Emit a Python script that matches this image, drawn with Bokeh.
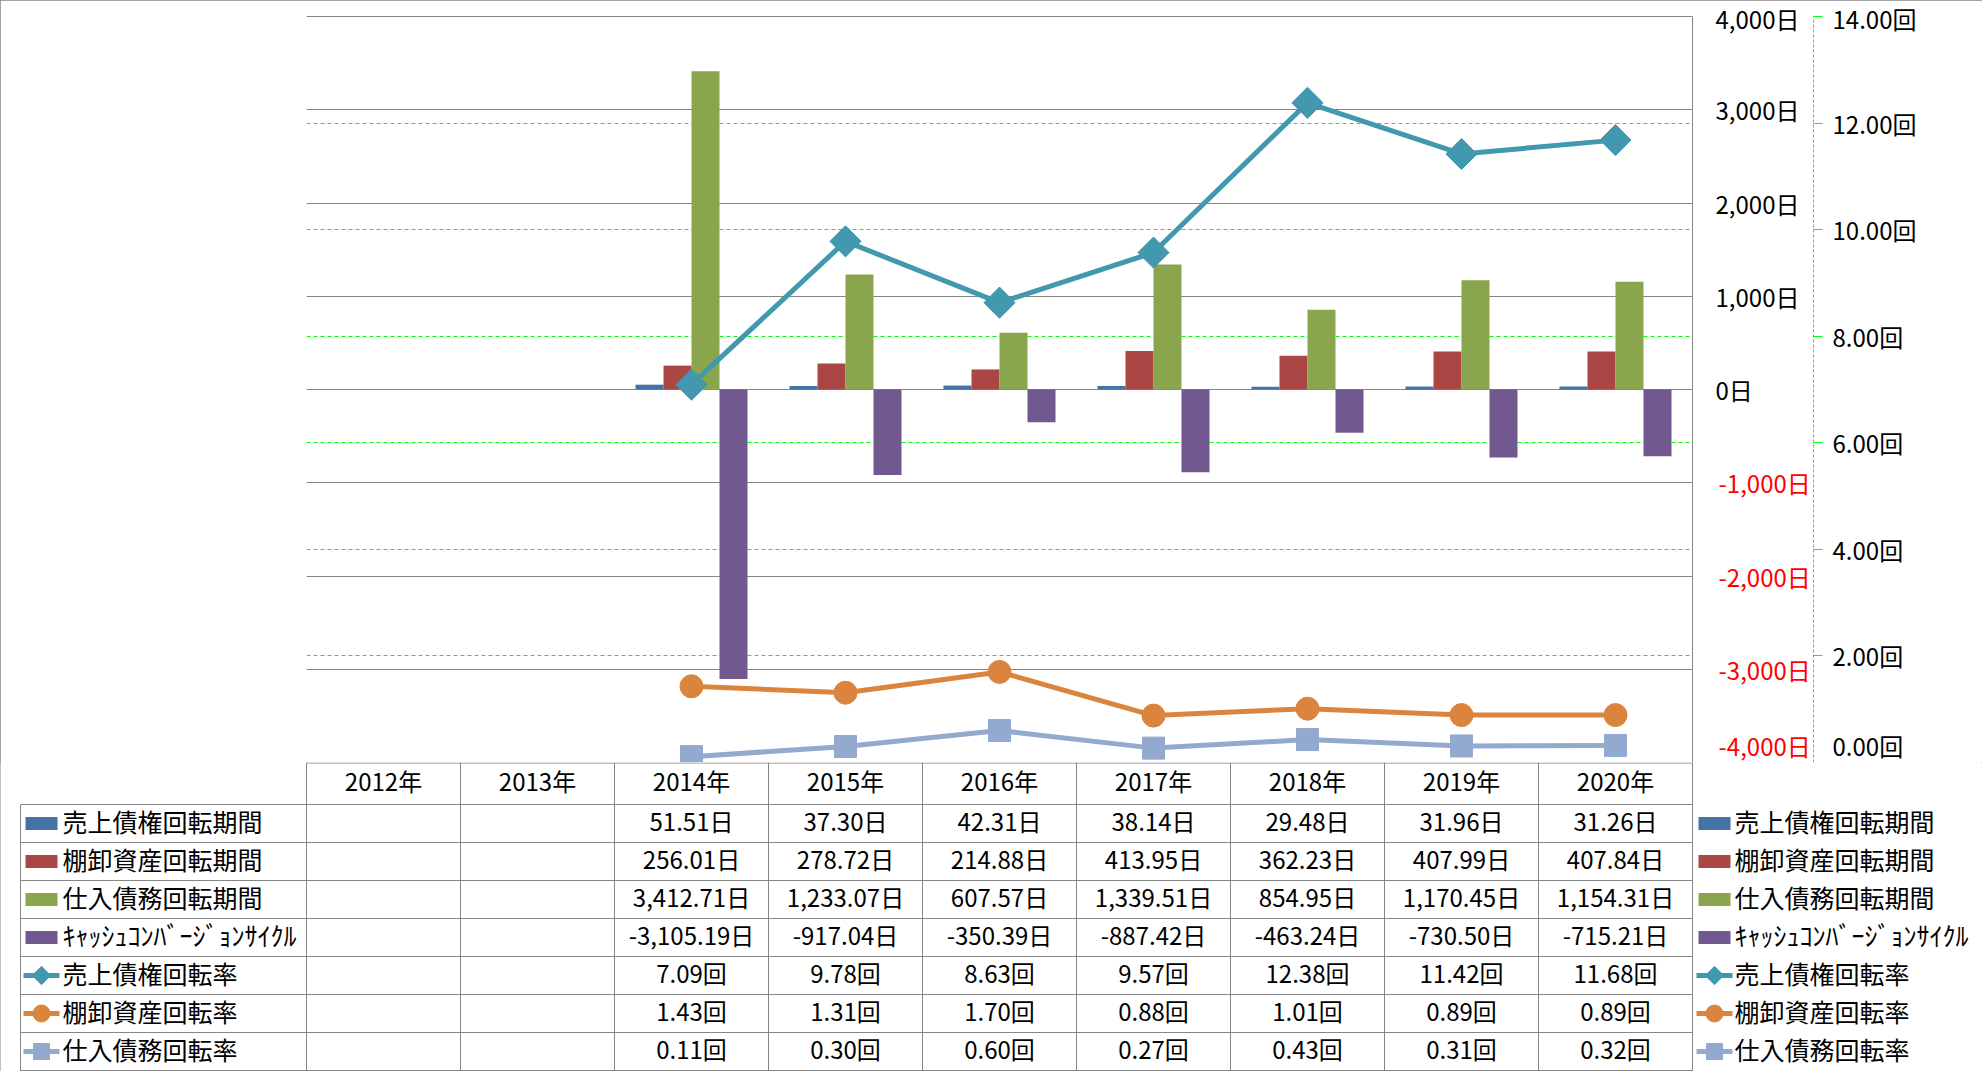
import numpy as np
from bokeh.plotting import figure
from bokeh.models import ColumnDataSource, FactorRange, Range1d, LinearAxis, FixedTicker, Grid
from bokeh.transform import dodge
from bokeh.layouts import column
from bokeh.embed import file_html
from bokeh.resources import INLINE
from bokeh.core.properties import value

# ---------------- data ----------------
years = ["2012年", "2013年", "2014年", "2015年", "2016年", "2017年", "2018年", "2019年", "2020年"]
nan = float("nan")
ar_days = [nan, nan, 51.51, 37.30, 42.31, 38.14, 29.48, 31.96, 31.26]
inv_days = [nan, nan, 256.01, 278.72, 214.88, 413.95, 362.23, 407.99, 407.84]
ap_days = [nan, nan, 3412.71, 1233.07, 607.57, 1339.51, 854.95, 1170.45, 1154.31]
ccc_days = [nan, nan, -3105.19, -917.04, -350.39, -887.42, -463.24, -730.50, -715.21]
ar_turn = [nan, nan, 7.09, 9.78, 8.63, 9.57, 12.38, 11.42, 11.68]
inv_turn = [nan, nan, 1.43, 1.31, 1.70, 0.88, 1.01, 0.89, 0.89]
ap_turn = [nan, nan, 0.11, 0.30, 0.60, 0.27, 0.43, 0.31, 0.32]

series_names = ["売上債権回転期間", "棚卸資産回転期間", "仕入債務回転期間",
                "ｷｬｯｼｭｺﾝﾊﾞｰｼﾞｮﾝｻｲｸﾙ", "売上債権回転率", "棚卸資産回転率", "仕入債務回転率"]
series_units = ["日", "日", "日", "日", "回", "回", "回"]

day_ticks = [-4000, -3000, -2000, -1000, 0, 1000, 2000, 3000, 4000]
day_tick_labels = ["-4,000日", "-3,000日", "-2,000日", "-1,000日", "0日",
                   "1,000日", "2,000日", "3,000日", "4,000日"]
turn_ticks = [0, 2, 4, 6, 8, 10, 12, 14]
turn_tick_labels = ["0.00回", "2.00回", "4.00回", "6.00回", "8.00回",
                    "10.00回", "12.00回", "14.00回"]
turn_grid_ticks = [2, 4, 6, 8, 10, 12]

# ---------------- style ----------------
FONT = "Noto Sans CJK JP"
FS = "24px"
GRID = "#868686"
GREEN = "#00FF00"
bar_colors = ["#4572A7", "#AA4643", "#89A54E", "#71588F"]
line_colors = ["#4198AF", "#DB843D", "#93A9CF"]
W = 1982
PL, PR = 306, 1692
PT, PB = 16, 762
CW = (PR - PL) / len(years)

bar_keys = ["ar_days", "inv_days", "ap_days", "ccc_days"]
line_keys = ["ar_turn", "inv_turn", "ap_turn"]
src = ColumnDataSource(dict(year=years, ar_days=ar_days, inv_days=inv_days, ap_days=ap_days,
                            ccc_days=ccc_days, ar_turn=ar_turn, inv_turn=inv_turn, ap_turn=ap_turn))

# ---------------- chart ----------------
d_pad = (day_ticks[-1] - day_ticks[0]) / (PB - PT)
t_pad = (turn_ticks[-1] - turn_ticks[0]) / (PB - PT)
top = figure(width=W, height=PB,
             x_range=FactorRange(*years, range_padding=0, factor_padding=0),
             y_range=Range1d(day_ticks[0], day_ticks[-1] + d_pad),
             x_axis_location=None, y_axis_location=None,
             min_border_left=PL, min_border_right=W - PR, min_border_top=PT - 1, min_border_bottom=0,
             output_backend="svg", toolbar_location=None, outline_line_color=None,
             background_fill_color="white", border_fill_color="white", frame_align=False)
top.extra_y_ranges = {"turn": Range1d(turn_ticks[0], turn_ticks[-1] + t_pad)}
top.grid.visible = False

top.add_layout(Grid(dimension=1, y_range_name="turn", ticker=FixedTicker(ticks=turn_grid_ticks),
                    grid_line_color=GREEN, grid_line_dash="4 3", grid_line_width=1))
top.add_layout(Grid(dimension=1, ticker=FixedTicker(ticks=day_ticks),
                    grid_line_color=GRID, grid_line_width=1))

bw = 28 / CW
offsets = [-1.5 * bw, -0.5 * bw, 0.5 * bw, 1.5 * bw]
for key, col, off in zip(bar_keys, bar_colors, offsets):
    top.vbar(x=dodge("year", off, range=top.x_range), top=key, bottom=0, width=bw,
             source=src, fill_color=col, line_color=None)

markers = [("square", np.pi / 4, 22), ("circle", 0, 23), ("square", 0, 22)]
for key, col, (mk, ang, sz) in zip(line_keys, line_colors, markers):
    top.line(x="year", y=key, y_range_name="turn", source=src, line_color=col, line_width=5)
    top.scatter(x="year", y=key, y_range_name="turn", source=src, marker=mk, angle=ang,
                size=sz, fill_color=col, line_color=col, line_width=1)

common = dict(major_label_text_font=FONT, major_label_text_font_size=FS,
              minor_tick_line_color=None, major_tick_in=0)
pos = [(t, l) for t, l in zip(day_ticks, day_tick_labels) if t >= 0]
neg = [(t, l) for t, l in zip(day_ticks, day_tick_labels) if t < 0]
axA = LinearAxis(ticker=FixedTicker(ticks=[t for t, _ in pos]),
                 major_label_overrides={t: l for t, l in pos}, bounds=(day_ticks[0], day_ticks[-1]),
                 axis_line_color=GRID, axis_line_width=1, major_tick_line_color=None,
                 major_tick_out=0, major_label_standoff=23, major_label_text_color="black", **common)
axB = LinearAxis(ticker=FixedTicker(ticks=[t for t, _ in neg]),
                 major_label_overrides={t: l for t, l in neg},
                 axis_line_color=None, major_tick_line_color=None,
                 major_tick_out=0, major_label_standoff=-84, major_label_text_color="#FF0000", **common)
axC = LinearAxis(y_range_name="turn", ticker=FixedTicker(ticks=turn_ticks),
                 major_label_overrides=dict(zip(turn_ticks, turn_tick_labels)),
                 bounds=(turn_ticks[0], turn_ticks[-1]),
                 axis_line_color=GREEN, axis_line_dash="3 2", axis_line_width=1,
                 major_tick_line_color=GREEN, major_tick_out=9,
                 major_label_standoff=10, major_label_text_color="black", **common)
top.add_layout(axA, "right")
top.add_layout(axB, "right")
top.add_layout(axC, "right")

# ---------------- data table + legend ----------------
TH = 309
HDR = 42
RH = 38
bot = figure(width=W, height=TH,
             x_range=Range1d(-PL / CW, (W - PL) / CW), y_range=Range1d(TH, 0),
             x_axis_location=None, y_axis_location=None, min_border=0,
             output_backend="svg", toolbar_location=None, outline_line_color=None,
             background_fill_color="white", border_fill_color="white", frame_align=False)
bot.grid.visible = False


def ux(px):
    return (px - PL) / CW


ncat = len(years)
nrow = len(series_names)
lab_left = ux(20)
hx0 = [0] + [lab_left] * (nrow + 1)
hx1 = [ncat] * (nrow + 2)
hy = [0.5] + [HDR + RH * r for r in range(nrow)] + [TH - 1]
bot.segment(x0=hx0, y0=hy, x1=hx1, y1=hy, line_color=GRID, line_width=1)
vx = [lab_left] + list(range(ncat + 1))
vy0 = [HDR] + [0] * (ncat + 1)
vy1 = [TH] * (ncat + 2)
bot.segment(x0=vx, y0=vy0, x1=vx, y1=vy1, line_color=GRID, line_width=1)

txt = dict(text_font=value(FONT), text_color="black", text_baseline="middle", y_offset=-3)
bot.text(x=[i + 0.5 for i in range(ncat)], y=[HDR / 2] * ncat, text=years, text_align="center",
         text_font_size=FS, **txt)
all_series = [ar_days, inv_days, ap_days, ccc_days, ar_turn, inv_turn, ap_turn]
cx, cy, ct = [], [], []
for r, (vals, unit) in enumerate(zip(all_series, series_units)):
    for i, v in enumerate(vals):
        if v == v:
            cx.append(i + 0.5)
            cy.append(HDR + RH * r + RH / 2)
            ct.append(f"{v:,.2f}{unit}")
bot.text(x=cx, y=cy, text=ct, text_align="center", text_font_size=FS, **txt)

row_y = [HDR + RH * r + RH / 2 for r in range(nrow)]
name_sizes = ["25px", "25px", "25px", "26px", "25px", "25px", "25px"]
for key_c, text_x, line_x0, line_x1 in [(41, 62, 23, 59), (1714, 1734, 1696, 1732)]:
    bot.text(x=[ux(text_x)] * nrow, y=row_y, text=series_names, text_align="left",
             text_font_size=name_sizes, **txt)
    bot.rect(x=[ux(key_c)] * 4, y=row_y[:4], width=32, height=13, width_units="screen",
             height_units="screen", fill_color=bar_colors, line_color=None)
    ly = row_y[4:]
    bot.segment(x0=[ux(line_x0)] * 3, y0=ly, x1=[ux(line_x1)] * 3, y1=ly,
                line_color=line_colors, line_width=5)
    lm = [("square", np.pi / 4, 13), ("circle", 0, 17), ("square", 0, 16)]
    for yy, col, (mk, ang, sz) in zip(ly, line_colors, lm):
        bot.scatter(x=[ux(key_c)], y=[yy], marker=mk, angle=ang, size=sz,
                    fill_color=col, line_color=col)

layout = column(top, bot, styles={"outline": "1px solid #868686", "outline-offset": "-1px"})
open("out.html", "w").write(file_html(layout, INLINE))
